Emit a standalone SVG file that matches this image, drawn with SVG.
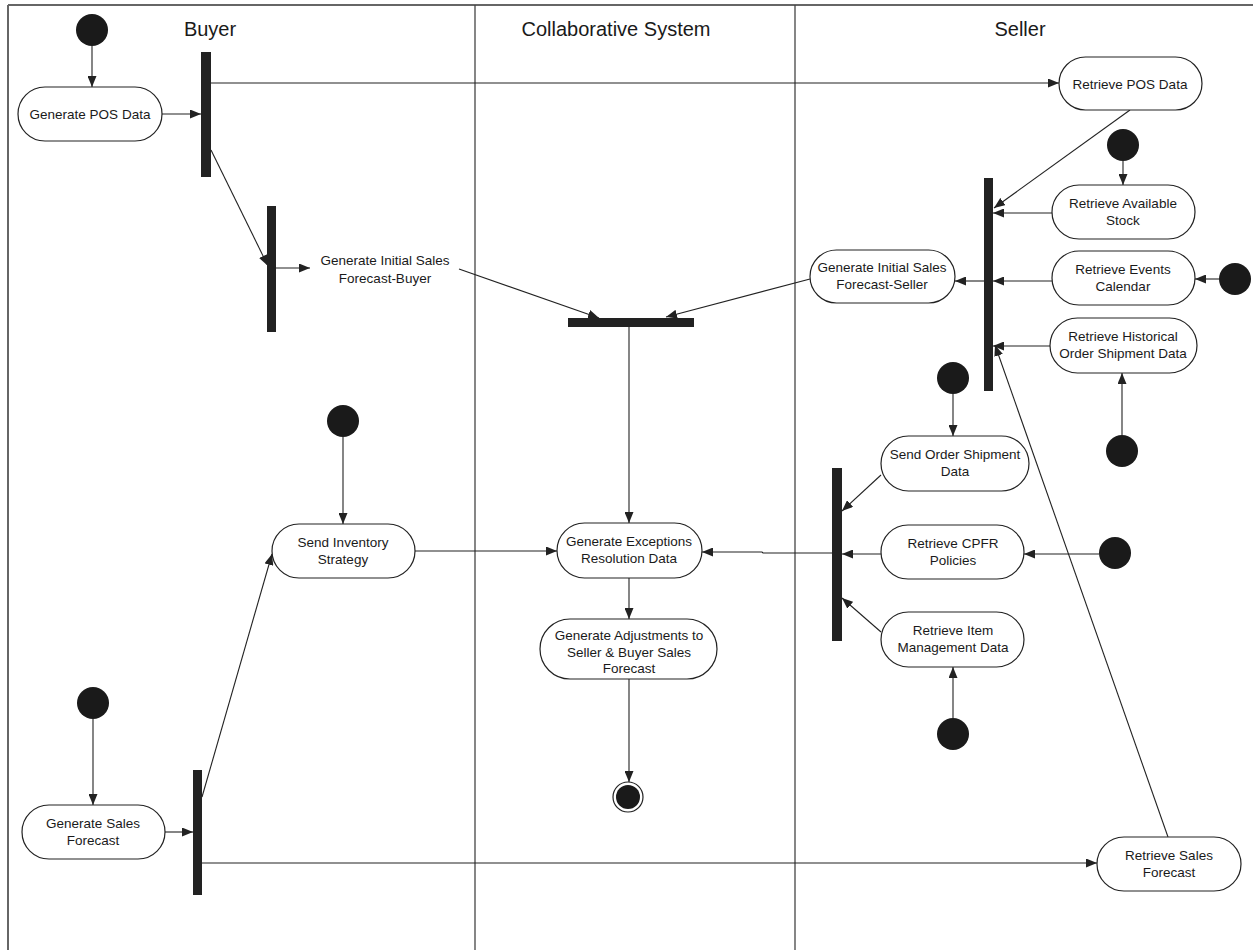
<svg xmlns="http://www.w3.org/2000/svg" width="1253" height="950" viewBox="0 0 1253 950">
<style>
.frame{stroke:#666;stroke-width:2;fill:none}
.lane{stroke:#444;stroke-width:1.3;fill:none}
.hdr{font-family:"Liberation Sans",Arial,sans-serif;font-size:20px;fill:#1a1a1a;text-anchor:middle}
.act{fill:#fff;stroke:#222;stroke-width:1.2}
.t{font-family:"Liberation Sans",Arial,sans-serif;font-size:13.5px;fill:#1a1a1a;text-anchor:middle}
.bar{fill:#222}
.start{fill:#1a1a1a}
.c{stroke:#222;stroke-width:1.1;fill:none;marker-end:url(#ah)}
</style>
<defs>
<marker id="ah" markerUnits="userSpaceOnUse" markerWidth="11" markerHeight="9" refX="11" refY="4.5" orient="auto">
<path d="M0,0 L11,4.5 L0,9 z" fill="#222"/>
</marker>
</defs>
<rect width="1253" height="950" fill="#fff"/>
<g id="swimlanes">
<line class="frame" x1="8" y1="5" x2="1253" y2="5"/>
<line class="frame" x1="8" y1="5" x2="8" y2="950"/>
<line class="lane" x1="475" y1="5" x2="475" y2="950"/>
<line class="lane" x1="795" y1="5" x2="795" y2="950"/>
<text class="hdr" x="210" y="36">Buyer</text>
<text class="hdr" x="616" y="36">Collaborative System</text>
<text class="hdr" x="1020" y="36">Seller</text>
</g>
<g id="connectors">
<line class="c" x1="92" y1="46" x2="92" y2="87"/>
<line class="c" x1="162" y1="114" x2="201" y2="114"/>
<line class="c" x1="211" y1="83" x2="1059" y2="83"/>
<line class="c" x1="211" y1="150" x2="268" y2="266"/>
<line class="c" x1="276" y1="268" x2="310" y2="268"/>
<line class="c" x1="459" y1="269" x2="599" y2="318"/>
<line class="c" x1="810" y1="279" x2="666" y2="317"/>
<line class="c" x1="629" y1="327" x2="629" y2="523"/>
<line class="c" x1="1130" y1="110" x2="994" y2="208"/>
<line class="c" x1="1123" y1="161" x2="1123" y2="185"/>
<line class="c" x1="1052" y1="213" x2="993" y2="213"/>
<line class="c" x1="984" y1="281" x2="955" y2="281"/>
<line class="c" x1="1052" y1="281" x2="993" y2="281"/>
<line class="c" x1="1219" y1="279" x2="1195" y2="279"/>
<line class="c" x1="1050" y1="346" x2="993" y2="346"/>
<line class="c" x1="1122" y1="435" x2="1122" y2="373"/>
<line class="c" x1="1168" y1="837" x2="995" y2="345"/>
<line class="c" x1="953" y1="394" x2="953" y2="436"/>
<line class="c" x1="881" y1="475" x2="842" y2="511"/>
<line class="c" x1="881" y1="554" x2="842" y2="554"/>
<line class="c" x1="1099" y1="554" x2="1024" y2="554"/>
<line class="c" x1="881" y1="632" x2="842" y2="598"/>
<line class="c" x1="953" y1="718" x2="953" y2="667"/>
<polyline class="c" points="832,553 763,553 762,552 702,552"/>
<line class="c" x1="415" y1="551" x2="557" y2="551"/>
<line class="c" x1="629" y1="578" x2="629" y2="619"/>
<line class="c" x1="629" y1="679" x2="629" y2="782"/>
<line class="c" x1="343" y1="437" x2="343" y2="524"/>
<line class="c" x1="93" y1="719" x2="93" y2="805"/>
<line class="c" x1="165" y1="832" x2="193" y2="832"/>
<line class="c" x1="202" y1="797" x2="272" y2="554"/>
<line class="c" x1="202" y1="863" x2="1097" y2="863"/>
</g>
<g id="start-pos"><circle class="start" cx="92" cy="30" r="16"/></g>
<g id="generate-pos-data"><rect class="act" x="18" y="87" width="144" height="54" rx="27"/><text class="t" x="90" y="119">Generate POS Data</text></g>
<g id="fork-buyer-1"><rect class="bar" x="201" y="52" width="10" height="125"/></g>
<g id="fork-buyer-2"><rect class="bar" x="267" y="206" width="9" height="126"/></g>
<g id="generate-initial-sales-forecast-buyer"><text class="t" x="385" y="265">Generate Initial Sales</text><text class="t" x="385" y="283">Forecast-Buyer</text></g>
<g id="join-forecasts"><rect class="bar" x="568" y="318" width="126" height="9"/></g>
<g id="retrieve-pos-data"><rect class="act" x="1059" y="57" width="143" height="53" rx="26.5"/><text class="t" x="1130" y="89">Retrieve POS Data</text></g>
<g id="start-stock"><circle class="start" cx="1123" cy="145" r="16"/></g>
<g id="retrieve-available-stock"><rect class="act" x="1052" y="185" width="143" height="54" rx="27"/><text class="t" x="1123" y="208">Retrieve Available</text><text class="t" x="1123" y="225">Stock</text></g>
<g id="join-seller"><rect class="bar" x="984" y="178" width="9" height="213"/></g>
<g id="generate-initial-sales-forecast-seller"><rect class="act" x="810" y="250" width="145" height="53" rx="26.5"/><text class="t" x="882" y="272">Generate Initial Sales</text><text class="t" x="882" y="289">Forecast-Seller</text></g>
<g id="retrieve-events-calendar"><rect class="act" x="1052" y="251" width="143" height="54" rx="27"/><text class="t" x="1123" y="274">Retrieve Events</text><text class="t" x="1123" y="291">Calendar</text></g>
<g id="start-events"><circle class="start" cx="1235" cy="279" r="16"/></g>
<g id="retrieve-historical"><rect class="act" x="1050" y="318" width="147" height="55" rx="27.5"/><text class="t" x="1123" y="341">Retrieve Historical</text><text class="t" x="1123" y="358">Order Shipment Data</text></g>
<g id="start-historical"><circle class="start" cx="1122" cy="451" r="16"/></g>
<g id="start-order-shipment"><circle class="start" cx="953" cy="378" r="16"/></g>
<g id="send-order-shipment-data"><rect class="act" x="881" y="436" width="148" height="55" rx="27.5"/><text class="t" x="955" y="459">Send Order Shipment</text><text class="t" x="955" y="476">Data</text></g>
<g id="join-seller-2"><rect class="bar" x="832" y="468" width="10" height="173"/></g>
<g id="retrieve-cpfr-policies"><rect class="act" x="881" y="525" width="143" height="54" rx="27"/><text class="t" x="953" y="548">Retrieve CPFR</text><text class="t" x="953" y="565">Policies</text></g>
<g id="start-cpfr"><circle class="start" cx="1115" cy="553" r="16"/></g>
<g id="retrieve-item-management-data"><rect class="act" x="881" y="612" width="143" height="55" rx="27.5"/><text class="t" x="953" y="635">Retrieve Item</text><text class="t" x="953" y="652">Management Data</text></g>
<g id="start-item"><circle class="start" cx="953" cy="734" r="16"/></g>
<g id="generate-exceptions"><rect class="act" x="557" y="523" width="145" height="55" rx="27.5"/><text class="t" x="629" y="546">Generate Exceptions</text><text class="t" x="629" y="563">Resolution Data</text></g>
<g id="generate-adjustments"><rect class="act" x="540" y="619" width="177" height="60" rx="30"/><text class="t" x="629" y="640">Generate Adjustments to</text><text class="t" x="629" y="657">Seller &amp; Buyer Sales</text><text class="t" x="629" y="673">Forecast</text></g>
<g id="final"><circle cx="628" cy="797" r="15" fill="#fff" stroke="#222" stroke-width="1.2"/><circle class="start" cx="628" cy="797" r="12"/></g>
<g id="start-inventory"><circle class="start" cx="343" cy="421" r="16"/></g>
<g id="send-inventory-strategy"><rect class="act" x="272" y="524" width="143" height="54" rx="27"/><text class="t" x="343" y="547">Send Inventory</text><text class="t" x="343" y="564">Strategy</text></g>
<g id="start-sales-forecast"><circle class="start" cx="93" cy="703" r="16"/></g>
<g id="generate-sales-forecast"><rect class="act" x="22" y="805" width="143" height="54" rx="27"/><text class="t" x="93" y="828">Generate Sales</text><text class="t" x="93" y="845">Forecast</text></g>
<g id="fork-buyer-3"><rect class="bar" x="193" y="770" width="9" height="125"/></g>
<g id="retrieve-sales-forecast"><rect class="act" x="1097" y="837" width="144" height="54" rx="27"/><text class="t" x="1169" y="860">Retrieve Sales</text><text class="t" x="1169" y="877">Forecast</text></g>
</svg>
